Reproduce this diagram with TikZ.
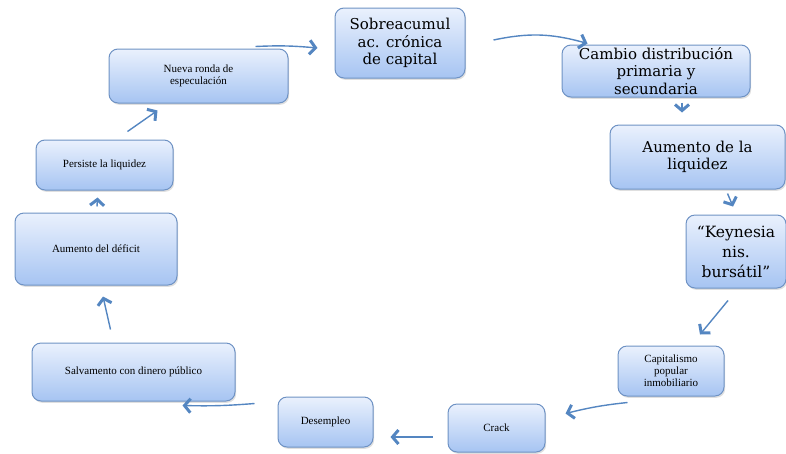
\documentclass[tikz,border=0pt]{standalone}
\usepackage{fontspec}
\setmainfont{Liberation Serif}
\newfontfamily\grande{DejaVu Serif}
\usetikzlibrary{arrows.meta,shadows,bending}
\definecolor{borde}{RGB}{110,146,196}
\definecolor{flecha}{RGB}{84,134,193}
\definecolor{claro}{RGB}{234,241,253}
\definecolor{oscuro}{RGB}{166,196,242}

\begin{document}
\begin{tikzpicture}[x=1pt,y=-1pt,
    caja/.style={draw=borde, line width=1pt, rounded corners=9pt, top color=claro, bottom color=oscuro,
        drop shadow={opacity=0.25, shadow xshift=1.2pt, shadow yshift=-1.8pt},
        inner sep=0pt, align=center},
    big/.style={font=\grande\fontsize{15}{17.5}\selectfont},
    small/.style={font=\fontsize{11}{12}\selectfont},
    arr/.style={flecha, line width=1.4pt, -{Straight Barb[length=6pt,width=14pt,line width=3pt]}}]
    \useasboundingbox (0,0) rectangle (786,453);
    % cajas grandes, arriba y a la derecha
    \node[caja,big,minimum width=130pt,minimum height=70pt] (sobre) at (400,43) {Sobreacumul\\ac. cr\'onica\\de capital};
    \node[caja,big,minimum width=188pt,minimum height=52pt] (cambio) at (656,71) {Cambio distribuci\'on\\primaria y\\secundaria};
    \node[caja,big,minimum width=175pt,minimum height=64pt] (liq) at (697.5,157) {Aumento de la\\liquidez};
    \node[caja,big,font=\grande\fontsize{15.5}{20}\selectfont,minimum width=100pt,minimum height=73pt] (key) at (736,251.5) {“Keynesia\\nis.\\burs\'atil”};
    % cajas chicas, abajo y a la izquierda
    \node[caja,small,minimum width=106pt,minimum height=50pt] (cap) at (671,371) {Capitalismo\\popular\\inmobiliario};
    \node[caja,small,minimum width=97pt,minimum height=48pt] (crack) at (496.5,428) {Crack};
    \node[caja,small,minimum width=95pt,minimum height=50pt] (des) at (325.5,422) {Desempleo};
    \node[caja,small,minimum width=203pt,minimum height=58pt] (salv) at (133.5,372) {Salvamento con dinero p\'ublico};
    \node[caja,small,minimum width=162pt,minimum height=72pt] (def) at (96,249) {Aumento del d\'eficit};
    \node[caja,small,minimum width=137pt,minimum height=50pt] (pers) at (104.5,165) {Persiste la liquidez};
    \node[caja,small,minimum width=179pt,minimum height=54pt] (nueva) at (198.5,76) {Nueva ronda de\\especulaci\'on};
    % flechas del ciclo
    \draw[arr] ([xshift=-33pt,yshift=2pt]nueva.north east) to[bend left=4] ([xshift=-17pt,yshift=-5pt]sobre.west);
    \draw[arr] ([xshift=28pt,yshift=3pt]sobre.east) to[bend left=14] ([xshift=26pt,yshift=1pt]cambio.north west);
    \draw[arr] ([xshift=26pt,yshift=-5pt]cambio.south) -- ([xshift=-15.5pt,yshift=12pt]liq.north);
    \draw[arr] ([xshift=30pt,yshift=-4pt]liq.south) -- ([xshift=-3pt,yshift=8pt]key.north);
    \draw[arr] ([xshift=-8pt,yshift=-12pt]key.south) -- ([xshift=29pt,yshift=11pt]cap.north);
    \draw[arr] ([xshift=10pt,yshift=-6pt]cap.south west) to[bend right=4] ([xshift=20pt,yshift=-10pt]crack.north east);
    \draw[arr] ([xshift=-15pt,yshift=-9pt]crack.west) -- ([xshift=17pt,yshift=-15pt]des.east);
    \draw[arr] ([xshift=-23pt,yshift=-7pt]des.north west) to[bend left=3] ([xshift=-53pt,yshift=-4pt]salv.south east);
    \draw[arr] ([xshift=-23pt,yshift=13pt]salv.north) -- ([xshift=7pt,yshift=-11pt]def.south);
    \draw[arr] ([xshift=1pt,yshift=6pt]def.north) -- ([xshift=-7pt,yshift=-7pt]pers.south);
    \draw[arr] ([xshift=23pt,yshift=8pt]pers.north) -- ([xshift=-41pt,yshift=-7pt]nueva.south);
\end{tikzpicture}
\end{document}
